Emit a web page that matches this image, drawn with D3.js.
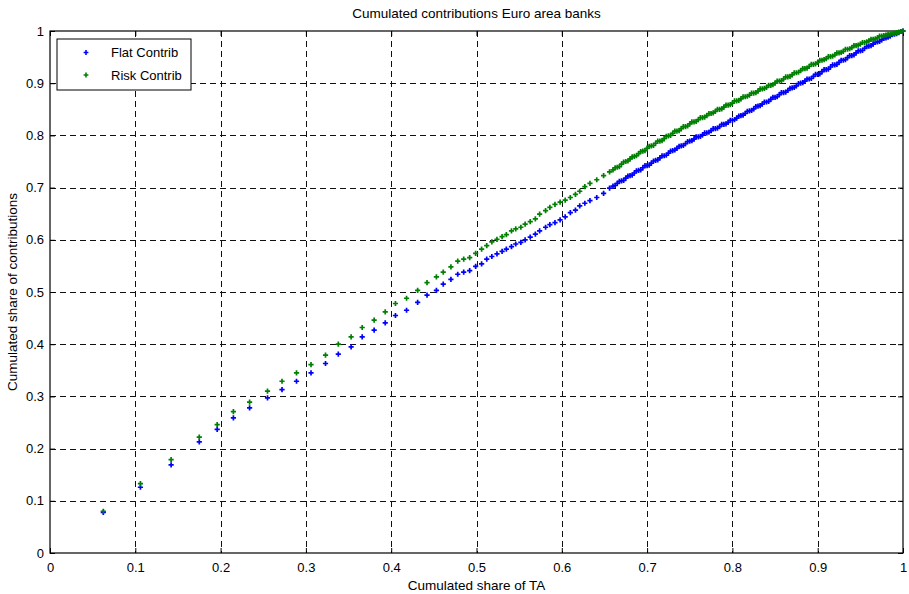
<!DOCTYPE html>
<html><head><meta charset="utf-8">
<script src="https://cdn.jsdelivr.net/npm/d3@7"></script>
<style>body{margin:0;background:#fff}svg{display:block;font-family:"Liberation Sans",Arial,sans-serif}</style>
</head><body><svg id="c" width="909" height="594"></svg>
<script>
const shareTA = [0.0625,0.106,0.142,0.175,0.196,0.215,0.234,0.255,0.272,0.289,0.306,0.323,0.338,0.353,0.366,0.380,0.393,0.405,0.418,0.431,0.442,0.453,0.461,0.470,0.478,0.485,0.492,0.499,0.506,0.512,0.518,0.524,0.530,0.535,0.541,0.546,0.552,0.557,0.563,0.569,0.574,0.581,0.586,0.592,0.598,0.604,0.610,0.616,0.621,0.627,0.633,0.641,0.649,0.656,
0.660,0.665,0.670,0.675,0.680,0.685,0.690,0.695,0.700,0.705,0.710,0.715,0.720,0.725,0.730,0.735,0.740,0.745,0.750,0.755,0.760,0.765,0.770,0.775,0.780,0.785,0.790,0.795,0.800,0.805,0.810,0.815,0.820,0.825,0.830,0.835,0.840,0.845,0.850,0.855,0.860,0.865,0.870,0.875,0.880,0.885,0.890,0.895,0.900,0.905,0.910,0.915,0.920,0.925,0.930,0.935,0.940,0.945,0.950,0.955,0.960,0.965,0.970,0.975,0.980,0.985,0.990,0.995,1.000];
const flatContrib = [0.078,0.126,0.169,0.213,0.237,0.259,0.278,0.297,0.313,0.329,0.345,0.363,0.381,0.395,0.414,0.427,0.441,0.455,0.465,0.480,0.494,0.503,0.515,0.524,0.534,0.538,0.541,0.549,0.554,0.563,0.568,0.573,0.578,0.582,0.587,0.592,0.595,0.600,0.605,0.611,0.617,0.624,0.629,0.633,0.638,0.644,0.652,0.657,0.665,0.670,0.675,0.681,0.689,0.699,
0.703,0.708,0.713,0.718,0.723,0.728,0.733,0.738,0.742,0.747,0.752,0.757,0.761,0.766,0.771,0.775,0.780,0.784,0.789,0.793,0.797,0.801,0.805,0.809,0.813,0.817,0.821,0.825,0.829,0.833,0.838,0.842,0.847,0.851,0.856,0.860,0.864,0.869,0.873,0.878,0.882,0.886,0.891,0.895,0.900,0.904,0.908,0.913,0.917,0.922,0.926,0.931,0.935,0.940,0.944,0.949,0.953,0.958,0.962,0.967,0.971,0.975,0.979,0.983,0.987,0.990,0.994,0.997,1.000];
const riskContrib = [0.080,0.133,0.179,0.222,0.246,0.271,0.289,0.310,0.329,0.345,0.361,0.379,0.400,0.414,0.432,0.446,0.462,0.478,0.488,0.503,0.518,0.529,0.538,0.548,0.559,0.563,0.566,0.574,0.582,0.589,0.596,0.601,0.606,0.610,0.617,0.621,0.624,0.630,0.635,0.640,0.649,0.656,0.662,0.668,0.672,0.676,0.681,0.687,0.693,0.702,0.708,0.715,0.723,0.730,
0.734,0.739,0.745,0.750,0.755,0.760,0.765,0.770,0.775,0.780,0.785,0.789,0.794,0.799,0.804,0.808,0.813,0.817,0.822,0.826,0.830,0.834,0.838,0.842,0.846,0.850,0.854,0.858,0.862,0.866,0.870,0.874,0.877,0.881,0.885,0.889,0.892,0.896,0.900,0.904,0.908,0.912,0.916,0.920,0.924,0.928,0.932,0.936,0.940,0.944,0.947,0.951,0.954,0.958,0.961,0.965,0.968,0.972,0.975,0.978,0.981,0.984,0.987,0.990,0.992,0.994,0.996,0.998,1.000];
// extra banks in the dense part of the curve (between the ones above)
const denseTA = [0.6625,0.6675,0.6725,0.6775,0.6825,0.6875,0.6925,0.6975,0.7025,0.7075,0.7125,0.7175,0.7225,0.7275,0.7325,0.7375,0.7425,0.7475,0.7525,0.7575,0.7625,0.7675,0.7725,0.7775,0.7825,0.7875,0.7925,0.7975,0.8025,0.8075,0.8125,0.8175,0.8225,0.8275,0.8325,0.8375,0.8425,0.8475,0.8525,0.8575,0.8625,0.8675,0.8725,0.8775,0.8825,0.8875,0.8925,0.8975,0.9025,0.9075,0.9125,0.9175,0.9225,0.9275,0.9325,0.9375,0.9425,0.9475,0.9525,0.9575,0.9625,0.9675,0.9725,0.9775,0.9825,0.9875,0.9925,0.9975];
const denseFlat = [0.704,0.712,0.714,0.722,0.724,0.732,0.734,0.742,0.743,0.751,0.753,0.761,0.762,0.770,0.772,0.779,0.781,0.788,0.790,0.797,0.798,0.805,0.806,0.813,0.814,0.821,0.822,0.829,0.830,0.837,0.839,0.846,0.848,0.855,0.857,0.864,0.865,0.873,0.874,0.882,0.883,0.890,0.892,0.899,0.901,0.908,0.909,0.917,0.918,0.926,0.927,0.935,0.936,0.944,0.945,0.953,0.954,0.962,0.963,0.970,0.972,0.978,0.980,0.986,0.988,0.993,0.995,0.999];
const denseRisk = [0.738,0.740,0.749,0.751,0.759,0.761,0.769,0.771,0.779,0.781,0.789,0.790,0.798,0.800,0.808,0.809,0.817,0.818,0.826,0.827,0.834,0.835,0.842,0.843,0.850,0.851,0.858,0.859,0.866,0.867,0.874,0.875,0.881,0.882,0.889,0.890,0.896,0.897,0.904,0.905,0.912,0.913,0.920,0.921,0.928,0.929,0.936,0.937,0.944,0.945,0.951,0.952,0.958,0.959,0.965,0.966,0.972,0.973,0.978,0.979,0.984,0.985,0.990,0.991,0.994,0.995,0.997,0.999];
const seriesNames = ["Flat Contrib","Risk Contrib"];
const seriesColors = ["#0000ff","#008000"];
const tickValues = [0,0.1,0.2,0.3,0.4,0.5,0.6,0.7,0.8,0.9,1];
const tickLabels = ["0","0.1","0.2","0.3","0.4","0.5","0.6","0.7","0.8","0.9","1"];

const svg = d3.select("#c");
const L=50, R=903, T=31, B=553;
const x = d3.scaleLinear().domain([0,1]).range([L,R]);
const y = d3.scaleLinear().domain([0,1]).range([B,T]);

// grid
const g = svg.append("g");
tickValues.slice(1,-1).forEach(v=>{
  g.append("line").attr("x1",Math.round(x(v))+0.5).attr("x2",Math.round(x(v))+0.5).attr("y1",T).attr("y2",B)
   .attr("stroke","#111").attr("stroke-dasharray","6,4").attr("stroke-width",1);
  g.append("line").attr("y1",Math.round(y(v))+0.5).attr("y2",Math.round(y(v))+0.5).attr("x1",L).attr("x2",R)
   .attr("stroke","#111").attr("stroke-dasharray","6,4").attr("stroke-width",1);
});

// axes
const fmt = d=>tickLabels[tickValues.indexOf(d)];
svg.append("g").attr("transform",`translate(0,${B})`)
  .call(d3.axisBottom(x).tickValues(tickValues).tickFormat(fmt).tickSize(-5).tickPadding(10));
svg.append("g").attr("transform",`translate(${L},0)`)
  .call(d3.axisLeft(y).tickValues(tickValues).tickFormat(fmt).tickSize(-5).tickPadding(6));
svg.append("g").attr("transform",`translate(0,${T})`)
  .call(d3.axisTop(x).tickValues(tickValues).tickFormat("").tickSize(-5));
svg.append("g").attr("transform",`translate(${R},0)`)
  .call(d3.axisRight(y).tickValues(tickValues).tickFormat("").tickSize(-5));
svg.selectAll(".domain").remove();
svg.selectAll(".tick line").attr("stroke","#000");
svg.selectAll(".tick text").attr("font-size",13).attr("fill","#000").attr("font-family","Liberation Sans, Arial, sans-serif");
svg.append("rect").attr("x",L).attr("y",T).attr("width",R-L).attr("height",B-T)
  .attr("fill","none").attr("stroke","#000").attr("stroke-width",1.2);

// markers
const plus = (s)=>`M${-s},0H${s}M0,${-s}V${s}`;
const series=[
  shareTA.map((d,i)=>[d,flatContrib[i]]).concat(denseTA.map((d,i)=>[d,denseFlat[i]])),
  shareTA.map((d,i)=>[d,riskContrib[i]]).concat(denseTA.map((d,i)=>[d,denseRisk[i]]))
];
series.forEach((pts,k)=>{
  svg.append("g").selectAll("path").data(pts).join("path")
    .attr("d",plus(2.6)).attr("transform",d=>`translate(${x(d[0])},${y(d[1])})`)
    .attr("stroke",seriesColors[k]).attr("stroke-width",1.7).attr("fill","none");
});

// titles
svg.append("text").attr("x",(L+R)/2).attr("y",18).attr("text-anchor","middle").attr("font-size",13.5).text("Cumulated contributions Euro area banks");
svg.append("text").attr("x",(L+R)/2).attr("y",590).attr("text-anchor","middle").attr("font-size",13.5).text("Cumulated share of TA");
svg.append("text").attr("transform",`translate(17,${(T+B)/2}) rotate(-90)`).attr("text-anchor","middle").attr("font-size",13.5).text("Cumulated share of contributions");

// legend
const lg = svg.append("g");
lg.append("rect").attr("x",57).attr("y",39).attr("width",134).attr("height",51).attr("fill","#fff").attr("stroke","#000").attr("stroke-width",1);
seriesNames.forEach((n,k)=>{
  const yy = 52.5 + k*22.5;
  lg.append("path").attr("d",plus(2.4)).attr("transform",`translate(86,${yy})`).attr("stroke",seriesColors[k]).attr("stroke-width",1.6);
  lg.append("text").attr("x",111).attr("y",yy+4.5).attr("font-size",13).text(n);
});
</script></body></html>
